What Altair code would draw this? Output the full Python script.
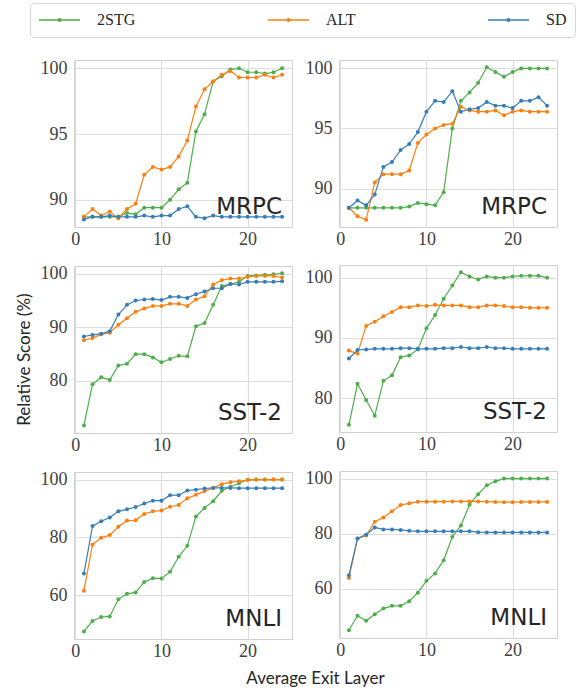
import altair as alt
import pandas as pd

layers = list(range(1, 25))
methods = ["2STG", "ALT", "SD"]
colors = ["#4daf4a", "#ff7f0e", "#377eb8"]

# MRPC (left)
mrpc_l_2stg = [88.7, 88.7, 88.7, 88.7, 88.7, 89.0, 88.9, 89.4, 89.4, 89.4, 90.0, 90.8, 91.3, 95.2, 96.5, 99.0, 99.4, 99.9, 100.0, 99.7, 99.7, 99.6, 99.7, 100.0]
mrpc_l_alt = [88.7, 89.3, 88.8, 89.1, 88.6, 89.3, 89.7, 91.9, 92.5, 92.3, 92.5, 93.3, 94.5, 97.1, 98.4, 99.0, 99.5, 99.8, 99.3, 99.3, 99.3, 99.5, 99.3, 99.5]
mrpc_l_sd = [88.5, 88.7, 88.7, 88.8, 88.7, 88.7, 88.7, 88.8, 88.7, 88.8, 88.8, 89.3, 89.5, 88.7, 88.6, 88.8, 88.7, 88.7, 88.7, 88.7, 88.7, 88.7, 88.7, 88.7]
# MRPC (right)
mrpc_r_2stg = [88.4, 88.4, 88.4, 88.4, 88.4, 88.4, 88.4, 88.5, 88.8, 88.7, 88.6, 89.7, 95.0, 97.3, 98.0, 98.8, 100.1, 99.7, 99.3, 99.7, 100.0, 100.0, 100.0, 100.0]
mrpc_r_alt = [88.4, 87.7, 87.4, 90.5, 91.2, 91.2, 91.2, 91.5, 93.8, 94.5, 95.0, 95.3, 95.4, 96.8, 96.5, 96.4, 96.4, 96.5, 96.1, 96.4, 96.5, 96.4, 96.4, 96.4]
mrpc_r_sd = [88.4, 89.0, 88.6, 89.5, 91.8, 92.2, 93.2, 93.7, 94.7, 96.4, 97.3, 97.2, 98.1, 96.4, 96.6, 96.7, 97.2, 96.9, 96.9, 96.7, 97.3, 97.3, 97.6, 96.9]
# SST-2 (left)
sst_l_2stg = [71.7, 79.4, 80.7, 80.2, 82.9, 83.2, 85.0, 85.0, 84.4, 83.5, 84.1, 84.7, 84.6, 90.2, 90.8, 94.2, 97.7, 98.1, 98.5, 99.6, 99.7, 99.8, 99.9, 100.1]
sst_l_alt = [87.6, 88.0, 88.7, 89.0, 90.5, 91.7, 92.9, 93.5, 94.0, 94.0, 94.4, 94.4, 94.0, 95.2, 95.8, 98.0, 98.8, 99.1, 99.1, 99.4, 99.6, 99.6, 99.6, 99.3]
sst_l_sd = [88.3, 88.6, 88.8, 89.3, 92.4, 94.2, 95.0, 95.2, 95.3, 95.1, 95.7, 95.7, 95.5, 96.2, 96.7, 97.3, 97.3, 98.1, 98.0, 98.5, 98.5, 98.5, 98.5, 98.6]
# SST-2 (right)
sst_r_2stg = [75.6, 82.4, 79.7, 77.1, 82.9, 83.8, 86.8, 87.1, 88.1, 91.6, 93.8, 96.5, 98.7, 100.9, 100.2, 99.7, 100.2, 100.0, 100.0, 100.2, 100.3, 100.3, 100.3, 100.0]
sst_r_alt = [87.9, 87.4, 92.0, 92.7, 93.6, 94.3, 95.1, 95.1, 95.4, 95.3, 95.5, 95.4, 95.4, 95.4, 95.1, 95.1, 95.4, 95.4, 95.3, 95.1, 95.1, 95.0, 95.0, 95.0]
sst_r_sd = [86.6, 88.0, 88.1, 88.2, 88.2, 88.2, 88.3, 88.3, 88.2, 88.2, 88.2, 88.3, 88.3, 88.5, 88.3, 88.3, 88.5, 88.3, 88.3, 88.2, 88.2, 88.2, 88.2, 88.2]
# MNLI (left)
mnli_l_2stg = [47.5, 51.1, 52.5, 52.7, 58.6, 60.5, 61.0, 64.6, 65.9, 65.8, 68.1, 73.3, 77.1, 87.2, 90.2, 92.5, 96.1, 97.5, 98.7, 99.9, 100.0, 100.0, 100.0, 100.0]
mnli_l_alt = [61.6, 77.5, 79.9, 80.8, 83.7, 85.8, 85.9, 88.1, 89.0, 89.3, 90.6, 91.2, 93.5, 94.7, 96.0, 97.1, 98.4, 99.1, 99.4, 99.8, 100.0, 100.0, 100.0, 100.0]
mnli_l_sd = [67.5, 83.9, 85.6, 86.9, 89.0, 89.7, 90.5, 91.7, 92.7, 92.7, 94.6, 94.6, 96.2, 96.5, 96.9, 97.1, 97.1, 97.1, 97.0, 97.0, 97.0, 97.0, 97.0, 97.0]
# MNLI (right)
mnli_r_2stg = [44.8, 50.1, 48.3, 50.6, 52.7, 53.7, 53.7, 55.4, 58.5, 62.8, 65.5, 70.3, 78.8, 82.9, 90.5, 94.3, 97.6, 99.0, 100.0, 100.0, 100.0, 100.0, 100.0, 100.0]
mnli_r_alt = [63.8, 78.2, 79.3, 84.3, 85.8, 88.1, 90.4, 91.0, 91.6, 91.6, 91.6, 91.6, 91.7, 91.7, 91.7, 91.7, 91.6, 91.5, 91.4, 91.4, 91.5, 91.5, 91.5, 91.5]
mnli_r_sd = [64.8, 78.2, 79.6, 82.2, 81.5, 81.5, 81.3, 81.0, 80.8, 80.8, 80.8, 80.8, 80.8, 80.8, 80.8, 80.5, 80.4, 80.4, 80.4, 80.4, 80.4, 80.4, 80.4, 80.4]

x_ticks = [0, 10, 20]
PW, PH = 218, 167
SERIF = "Liberation Serif"

legend_symbol = "M-1,0L1,0M0.06,0A0.06,0.06,0,1,1,-0.06,0A0.06,0.06,0,1,1,0.06,0"


def panel(task, series, ydom, yticks):
    rows = []
    for m, vals in zip(methods, series):
        for lx, v in zip(layers, vals):
            rows.append({"layer": lx, "score": v, "method": m})
    df = pd.DataFrame(rows)
    base = alt.Chart(df).mark_line(
        strokeWidth=1.2,
        point=alt.OverlayMarkDef(filled=True, size=16, opacity=1),
    ).encode(
        x=alt.X("layer:Q", scale=alt.Scale(domain=[-0.15, 25.15], nice=False, zero=False),
                axis=alt.Axis(values=x_ticks, title=None, labelPadding=3,
                              labelFont=SERIF, labelFontSize=18, labelColor="#404040")),
        y=alt.Y("score:Q", scale=alt.Scale(domain=ydom, nice=False, zero=False),
                axis=alt.Axis(values=yticks, title=None, labelPadding=7,
                              labelFont=SERIF, labelFontSize=18, labelColor="#404040")),
        color=alt.Color("method:N", scale=alt.Scale(domain=methods, range=colors),
                        legend=alt.Legend(
                            orient="none", legendX=-44, legendY=-57,
                            direction="horizontal", columns=3, columnPadding=131,
                            title=None, symbolType=legend_symbol, symbolSize=1681,
                            symbolStrokeWidth=1.5, clipHeight=18,
                            labelFont=SERIF, labelFontSize=16,
                            labelColor="#262626", labelOffset=16, padding=8,
                            strokeColor="#d6d6d6", cornerRadius=4, fillColor="white")),
        order=alt.Order("layer:Q"),
    )
    label = alt.Chart(pd.DataFrame({"t": [task]})).mark_text(
        align="right", baseline="alphabetic", font="DejaVu Sans", fontSize=23,
        color="#262626"
    ).encode(text="t:N", x=alt.value(PW - 10), y=alt.value(PH - 13))
    return alt.layer(base, label).properties(width=PW, height=PH)


tl = panel("MRPC", [mrpc_l_2stg, mrpc_l_alt, mrpc_l_sd], [87.93, 100.63], [90, 95, 100])
tr = panel("MRPC", [mrpc_r_2stg, mrpc_r_alt, mrpc_r_sd], [86.8, 100.7], [90, 95, 100])
ml = panel("SST-2", [sst_l_2stg, sst_l_alt, sst_l_sd], [70.3, 101.45], [80, 90, 100])
mr = panel("SST-2", [sst_r_2stg, sst_r_alt, sst_r_sd], [74.4, 102.1], [80, 90, 100])
bl = panel("MNLI", [mnli_l_2stg, mnli_l_alt, mnli_l_sd], [44.9, 102.6], [60, 80, 100])
br = panel("MNLI", [mnli_r_2stg, mnli_r_alt, mnli_r_sd], [42.0, 102.75], [60, 80, 100])

left_col = alt.vconcat(tl, ml, bl, spacing=15,
                       title=alt.TitleParams("Relative Score (%)", orient="left", anchor="middle",
                                             offset=6))
right_col = alt.vconcat(tr, mr, br, spacing=15)

chart = alt.hconcat(left_col, right_col, spacing=11,
                    title=alt.TitleParams("Average Exit Layer", orient="bottom", anchor="middle",
                                          offset=10, dx=20)).properties(
    padding={"left": 15, "top": 2, "right": 0, "bottom": 0}
).configure_view(
    stroke="#d0d0d0", strokeWidth=1
).configure_axis(
    labelFont=SERIF, labelFontSize=18, labelColor="#404040",
    ticks=False, domain=False, grid=True, gridColor="#dddddd", gridWidth=1.2
).configure_title(
    font="Lato", fontSize=17, color="#262626", fontWeight="normal"
)

chart.save("out.html", embed_options={"renderer": "svg", "actions": False})
